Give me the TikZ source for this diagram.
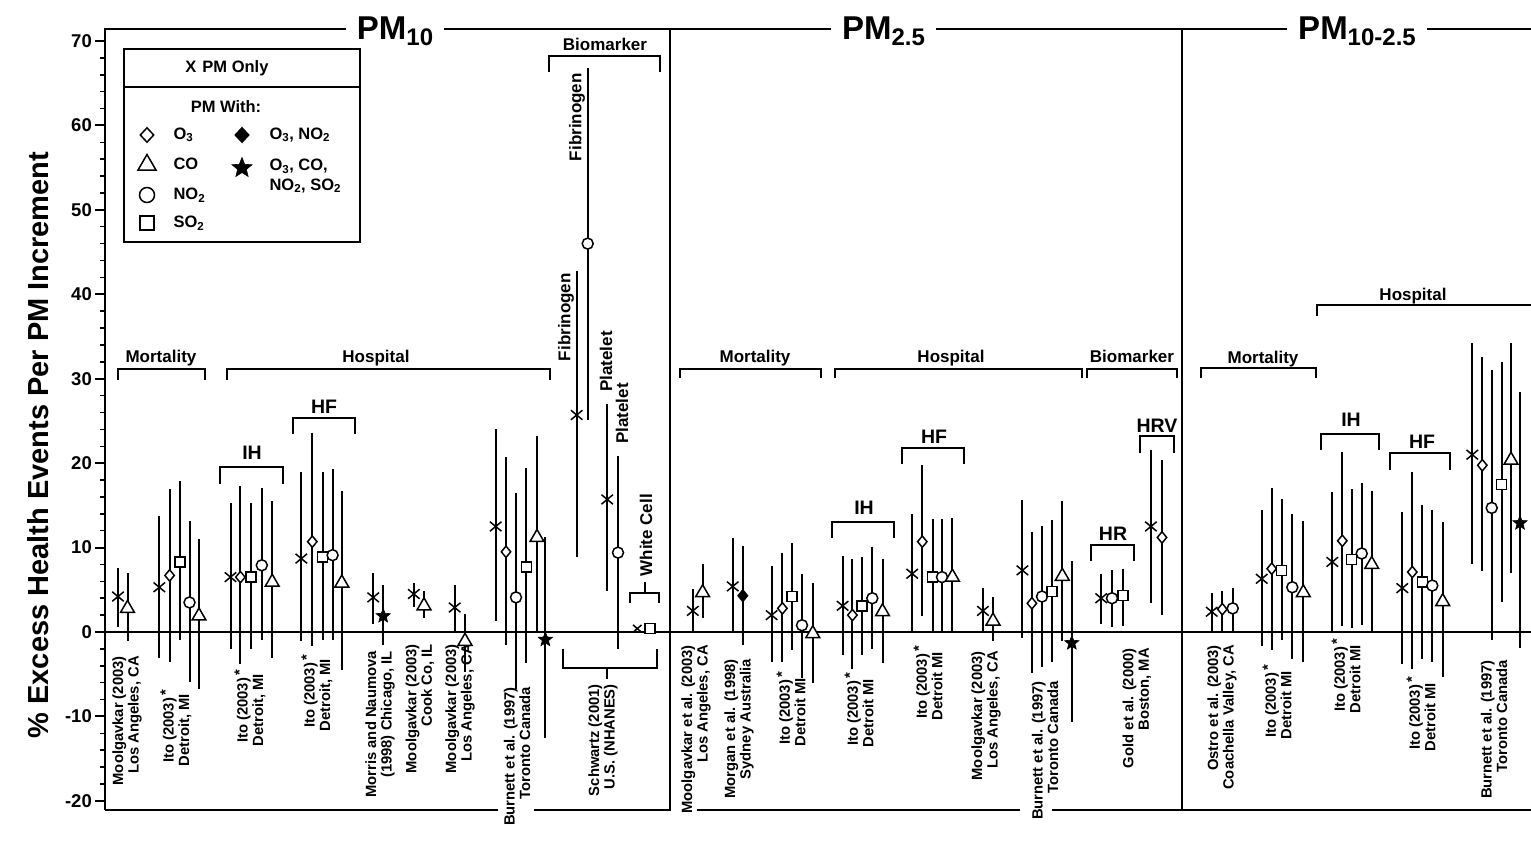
\documentclass[tikz,border=0pt]{standalone}
\usepackage{fontspec}
\setmainfont{Liberation Sans}
\usetikzlibrary{shapes.geometric,shapes.misc}
\newcommand\myfs[1]{\fontsize{#1}{#1}\selectfont\bfseries}
\newcommand\eb[5]{\draw[ebar] (#1,#2) -- (#1,#3); \node[#5] at (#1,#4) {};}
\newcommand\bkt[4]{\draw[brk] (#1,#4) -- (#1,#3) -- (#2,#3) -- (#2,#4);}
\newcommand\itost{Ito (2003)\rlap{\,\raisebox{3pt}{*}}}
\tikzset{
 frame/.style={line width=2pt},
 ebar/.style={line width=2pt},
 brk/.style={line width=2pt},
 mk/.style={draw, line width=1.5pt, fill=white, inner sep=0pt},
 mC/.style={mk, circle, minimum size=11pt},
 mS/.style={mk, rectangle, minimum size=10pt},
 mD/.style={mk, diamond, minimum width=10pt, minimum height=12pt},
 mF/.style={mD, fill=black},
 mT/.style={mk, regular polygon, regular polygon sides=3, minimum size=16pt},
 mStar/.style={draw, fill=black, star, star points=5, star point ratio=2.3, minimum size=15pt, inner sep=0pt, line width=0.6pt},
 mX/.style={draw, cross out, line width=1.5pt, minimum width=10pt, minimum height=8pt, inner sep=0pt},
 lC/.style={mk, circle, minimum size=15pt},
 lS/.style={mk, rectangle, minimum size=14pt},
 lD/.style={mk, diamond, minimum width=14pt, minimum height=15pt},
 lF/.style={lD, fill=black},
 lT/.style={mk, regular polygon, regular polygon sides=3, minimum size=21pt},
 lStar/.style={draw, fill=black, star, star points=5, star point ratio=2.3, minimum size=21pt, inner sep=0pt, line width=0.6pt},
 grp/.style={font=\myfs{17}, anchor=base},
 sublab/.style={font=\myfs{19.5}, anchor=base},
 slab/.style={font=\fontsize{14.8}{15.5}\selectfont\bfseries, rotate=90, anchor=east, align=right, inner sep=1pt},
 ilab/.style={slab, align=center},
 vlab/.style={font=\myfs{17}, rotate=90, anchor=east, inner sep=1pt},
 ptitle/.style={fill=white, inner xsep=11pt, inner ysep=3pt, anchor=base, font=\myfs{33}},
 ticklab/.style={font=\myfs{18.5}, anchor=east, inner sep=0pt},
 leg/.style={font=\myfs{16.5}},
}
\begin{document}
\begin{tikzpicture}[x=1pt,y=-1pt]
\useasboundingbox (0,0) rectangle (1531,845);
% ---------- frame ----------
\draw[frame] (105,810) -- (105,29) -- (1531,29);
\draw[frame] (105,810) -- (498,810);
\draw[frame] (534,810) -- (670,810);
\draw[frame] (697,810) -- (1020,810);
\draw[frame] (1052,810) -- (1531,810);
\draw[frame] (670,29) -- (670,811);
\draw[frame] (1182,29) -- (1182,811);
\draw[frame] (105,632) -- (1531,632);
\foreach \vv in {-20,-10,...,70} {
  \draw[frame] (95,{632-8.443*\vv}) -- (105,{632-8.443*\vv});
  \node[ticklab] at (92,{632-8.443*\vv}) {\vv};
}
\foreach \vv in {-18,-16,...,68} {
  \draw[line width=1.5pt] (100,{632-8.443*\vv}) -- (105,{632-8.443*\vv});
}
\node[font=\myfs{29}, rotate=90] (ylab) at (38,445) {\% Excess Health Events Per PM Increment};
% ---------- titles ----------
\node[ptitle] (t1) at (395,39.5) {PM\raisebox{-6pt}{\myfs{24}10}};
\node[ptitle] (t2) at (883.5,39.5) {PM\raisebox{-6pt}{\myfs{24}2.5}};
\node[ptitle] (t3) at (1357,39.5) {PM\raisebox{-6pt}{\myfs{24}10-2.5}};
% ---------- legend ----------
\draw[frame] (124,49) rectangle (360,242);
\draw[frame] (124,87) -- (360,87);
\node[leg] (l0) at (227,68) {X\hspace{6pt}PM Only};
\node[leg] (l1) at (226,107) {PM With:};
\node[lD] (m1) at (147,135) {};
\node[lT] (m2) at (147,165) {};
\node[lC] (m3) at (147,195) {};
\node[lS] (m4) at (147,223) {};
\node[lF] (m5) at (242,135) {};
\node[lStar] (m6) at (242,168) {};
\node[leg, anchor=west] (n1) at (170,135) {O\textsubscript{3}};
\node[leg, anchor=west] (n2) at (170,164) {CO};
\node[leg, anchor=west] (n3) at (170,195) {NO\textsubscript{2}};
\node[leg, anchor=west] (n4) at (170,223) {SO\textsubscript{2}};
\node[leg, anchor=west] (n5) at (266,135) {O\textsubscript{3}, NO\textsubscript{2}};
\node[leg, anchor=west, align=left] (n6) at (266,176) {O\textsubscript{3}, CO,\\[3pt]NO\textsubscript{2}, SO\textsubscript{2}};
% ---------- group brackets ----------
\bkt{118}{205}{369}{380}   \node[grp] (g1) at (161,362) {Mortality};
\bkt{227}{550}{369}{380}   \node[grp] (g2) at (376,362) {Hospital};
\bkt{220}{283}{467}{484}   \node[sublab] (g3) at (252,459) {IH};
\bkt{293}{355}{418}{434}   \node[sublab] (g4) at (324,413) {HF};
\bkt{549}{660}{56}{72}     \node[grp] (g5) at (605,51) {Biomarker};
\bkt{630}{659}{593}{603}   \draw[brk] (645,593) -- (645,582);
\draw[brk] (563,649) -- (563,668) -- (657,668) -- (657,649);
\draw[brk] (607,668) -- (607,679);
\node[vlab] (b1) at (577,72) {Fibrinogen};
\node[vlab] (b2) at (566,272) {Fibrinogen};
\node[vlab] (b3) at (606,330) {Platelet};
\node[vlab] (b4) at (622,382) {Platelet};
\node[vlab] (b5) at (646,493) {White Cell};
\bkt{680}{821}{369}{378}   \node[grp] (g6) at (755,362) {Mortality};
\bkt{835}{1082}{369}{378}  \node[grp] (g7) at (951,362) {Hospital};
\bkt{1087}{1177}{369}{378} \node[grp] (g8) at (1132,362) {Biomarker};
\bkt{832}{894}{522}{538}   \node[sublab] (g9) at (864,514) {IH};
\bkt{902}{964}{448}{464}   \node[sublab] (g10) at (934,443) {HF};
\bkt{1091}{1134}{545}{561} \node[sublab] (g11) at (1113,540) {HR};
\bkt{1140}{1174}{436}{453} \node[sublab] (g12) at (1157,432) {HRV};
\bkt{1201}{1316}{368}{378} \node[grp] (g13) at (1263,363) {Mortality};
\draw[brk] (1317,316) -- (1317,305) -- (1545,305);
\node[grp] (g14) at (1413,300) {Hospital};
\bkt{1321}{1379}{434}{450} \node[sublab] (g15) at (1351,426) {IH};
\bkt{1390}{1450}{453}{470} \node[sublab] (g16) at (1422,448) {HF};
% ---------- study labels ----------
\node[slab] (s1) at (127,655) {Moolgavkar (2003)\\Los Angeles, CA};
\node[ilab] (s2) at (176,693) {\itost\\Detroit, MI};
\node[ilab] (s3) at (250,673) {\itost\\Detroit, MI};
\node[ilab] (s4) at (317,658) {\itost\\Detroit, MI};
\node[slab] (s5) at (380,650) {Morris and Naumova\\(1998) Chicago, IL};
\node[slab] (s6) at (420,643) {Moolgavkar (2003)\\Cook Co, IL};
\node[slab] (s7) at (460,643) {Moolgavkar (2003)\\Los Angeles, CA};
\node[slab] (s8) at (517,686) {Burnett et al. (1997)\\Toronto Canada};
\node[slab] (s9) at (603,683) {Schwartz (2001)\\U.S. (NHANES)};
\node[slab] (s10) at (696,644) {Moolgavkar et al. (2003)\\Los Angeles, CA};
\node[slab] (s11) at (739,658) {Morgan et al. (1998)\\Sydney Australia};
\node[ilab] (s12) at (791,677) {\itost\\Detroit MI};
\node[ilab] (s13) at (859,678) {\itost\\Detroit MI};
\node[ilab] (s14) at (928,651) {\itost\\Detroit MI};
\node[slab] (s15) at (986,650) {Moolgavkar (2003)\\Los Angeles, CA};
\node[slab] (s16) at (1045,680) {Burnett et al. (1997)\\Toronto Canada};
\node[slab] (s17) at (1137,647) {Gold et al. (2000)\\Boston, MA};
\node[slab] (s18) at (1222,644) {Ostro et al. (2003)\\Coachella Valley, CA};
\node[ilab] (s19) at (1277,670) {\itost\\Detroit MI};
\node[ilab] (s20) at (1346,644) {\itost\\Detroit MI};
\node[ilab] (s21) at (1421,682) {\itost\\Detroit MI};
\node[slab] (s22) at (1494,659) {Burnett et al. (1997)\\Toronto Canada};
% ---------- data ----------
\begin{scope}[yshift=-632pt, y=8.443pt]
% PM10 mortality
\eb{118}{7.6}{0.6}{4.2}{mX}
\eb{127.5}{7.0}{-1.1}{2.8}{mT}
\eb{159.3}{13.7}{-3.1}{5.3}{mX}
\eb{169.6}{16.9}{-3.5}{6.7}{mD}
\eb{180}{17.9}{-1.0}{8.3}{mS}
\eb{189.5}{13.1}{-5.9}{3.5}{mC}
\eb{199}{11.0}{-6.7}{1.9}{mT}
% PM10 IH
\eb{230.5}{15.3}{-2.0}{6.5}{mX}
\eb{240.4}{17.3}{-3.8}{6.5}{mD}
\eb{251}{15.3}{-2.0}{6.5}{mS}
\eb{261.8}{17.1}{-0.9}{7.9}{mC}
\eb{272.2}{15.5}{-3.1}{5.9}{mT}
% PM10 HF
\eb{301.3}{18.9}{-1.1}{8.7}{mX}
\eb{312.3}{23.6}{-1.7}{10.7}{mD}
\eb{322.7}{18.9}{-0.9}{8.9}{mS}
\eb{332.6}{19.3}{-0.9}{9.1}{mC}
\eb{341.8}{16.7}{-4.5}{5.8}{mT}
% Morris, Cook, LA
\eb{373.2}{7.0}{0.9}{4.1}{mX}
\eb{383.2}{5.6}{-1.5}{1.9}{mStar}
\eb{413.8}{5.8}{3.0}{4.5}{mX}
\eb{424}{4.8}{1.7}{3.1}{mT}
\eb{454.7}{5.6}{0}{2.9}{mX}
\eb{465}{2.1}{-4.7}{-1.1}{mT}
% Burnett PM10
\eb{495.7}{24.0}{1.3}{12.5}{mX}
\eb{506}{20.7}{-1.5}{9.5}{mD}
\eb{516}{16.5}{-6.7}{4.1}{mC}
\eb{526.3}{19.4}{-3.7}{7.7}{mS}
\eb{537}{23.2}{0}{11.2}{mT}
\eb{545.4}{11.2}{-12.6}{-0.9}{mStar}
% Schwartz biomarkers
\eb{587.7}{66.8}{25.1}{46.0}{mC}
\eb{576.7}{42.8}{8.9}{25.7}{mX}
\eb{607.2}{27.0}{4.8}{15.7}{mX}
\eb{618}{20.8}{-2.0}{9.4}{mC}
\node[mX, minimum width=7pt, minimum height=6pt] at (637.3,0.4) {};
\node[mS] at (650,0.4) {};
% PM2.5 mortality
\eb{692.8}{5.1}{0}{2.5}{mX}
\eb{702.6}{8.0}{1.6}{4.65}{mT}
\eb{732.7}{11.1}{0}{5.4}{mX}
\eb{742.8}{10.2}{-1.5}{4.3}{mF}
\eb{771.6}{7.8}{-3.5}{2.0}{mX}
\eb{782.4}{9.4}{-3.5}{2.8}{mD}
\eb{791.8}{10.5}{-2.1}{4.2}{mS}
\eb{802}{6.9}{-5.4}{0.8}{mC}
\eb{812.8}{5.8}{-6.0}{-0.2}{mT}
% PM2.5 IH
\eb{842.6}{9.0}{-2.7}{3.1}{mX}
\eb{852.4}{8.7}{-4.4}{2.0}{mD}
\eb{862.2}{8.9}{-2.7}{3.1}{mS}
\eb{872.3}{10.1}{-2.0}{4.0}{mC}
\eb{882.5}{8.7}{-3.7}{2.4}{mT}
% PM2.5 HF
\eb{912.2}{14.0}{0}{6.9}{mX}
\eb{922.3}{19.8}{1.9}{10.7}{mD}
\eb{932.5}{13.4}{0}{6.5}{mS}
\eb{942}{13.4}{0}{6.5}{mC}
\eb{952.4}{13.5}{0}{6.5}{mT}
% PM2.5 LA, Burnett
\eb{982.9}{5.2}{0}{2.5}{mX}
\eb{993}{4.1}{-1.1}{1.3}{mT}
\eb{1022.4}{15.6}{-0.75}{7.3}{mX}
\eb{1031.9}{11.9}{-4.8}{3.4}{mD}
\eb{1042}{12.5}{-4.1}{4.2}{mC}
\eb{1052.2}{13.3}{-3.5}{4.8}{mS}
\eb{1062.3}{15.5}{-1.1}{6.6}{mT}
\eb{1071.8}{8.4}{-10.6}{-1.3}{mStar}
% HR, HRV
\eb{1101.2}{6.9}{0.95}{4.0}{mX}
\eb{1112}{7.3}{0.6}{4.0}{mC}
\eb{1123.1}{7.5}{0.7}{4.3}{mS}
\eb{1150.9}{21.6}{3.4}{12.5}{mX}
\eb{1162}{20.4}{2.0}{11.2}{mD}
% PM10-2.5 mortality
\eb{1211.7}{4.6}{0}{2.4}{mX}
\eb{1222.3}{4.9}{0}{2.7}{mD}
\eb{1232.7}{5.2}{0}{2.8}{mC}
\eb{1261.7}{14.4}{-1.6}{6.3}{mX}
\eb{1271.7}{17.1}{-2.1}{7.5}{mD}
\eb{1281.7}{15.8}{-1.0}{7.3}{mS}
\eb{1292.3}{14.0}{-3.2}{5.3}{mC}
\eb{1303.3}{13.1}{-3.5}{4.65}{mT}
% PM10-2.5 IH
\eb{1332.3}{16.6}{0}{8.3}{mX}
\eb{1342.3}{21.3}{0.7}{10.8}{mD}
\eb{1351.7}{16.9}{0.5}{8.6}{mS}
\eb{1361.7}{17.6}{0.8}{9.3}{mC}
\eb{1371.7}{16.7}{0}{8.0}{mT}
% PM10-2.5 HF
\eb{1402.3}{14.2}{-3.8}{5.2}{mX}
\eb{1412.3}{19.0}{-4.4}{7.1}{mD}
\eb{1422.3}{15.1}{-3.2}{5.9}{mS}
\eb{1432.3}{14.5}{-3.5}{5.5}{mC}
\eb{1442.7}{13.0}{-5.3}{3.6}{mT}
% PM10-2.5 Burnett
\eb{1472.3}{34.2}{8.1}{21.0}{mX}
\eb{1482.3}{32.6}{7.2}{19.75}{mD}
\eb{1491.7}{31.0}{-1.0}{14.7}{mC}
\eb{1501.7}{32.0}{3.6}{17.5}{mS}
\eb{1511}{34.2}{7.0}{20.35}{mT}
\eb{1520}{28.4}{-1.9}{12.9}{mStar}
\end{scope}
\end{tikzpicture}
\end{document}
